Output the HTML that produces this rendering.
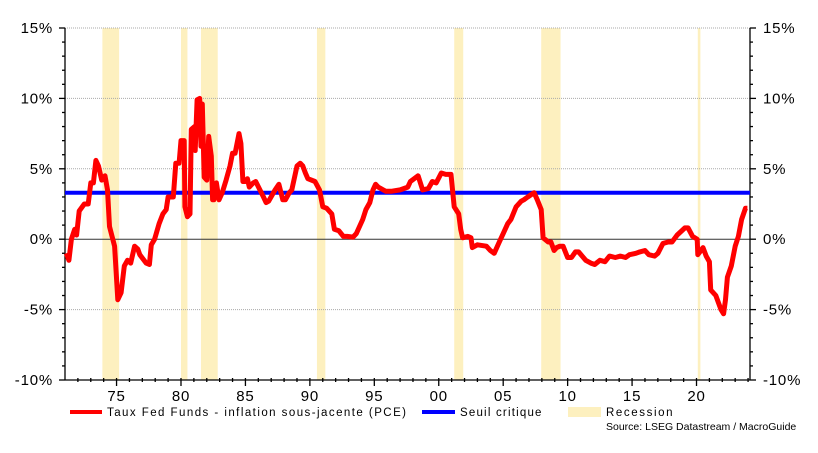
<!DOCTYPE html>
<html><head><meta charset="utf-8"><style>
body{margin:0;background:#fff;width:818px;height:448px;overflow:hidden}
svg text{font-family:"Liberation Sans",sans-serif;fill:#000}
</style></head><body>
<svg id="chart" width="818" height="448" xmlns="http://www.w3.org/2000/svg"></svg>
<script>
const years=[1971.1,1971.3,1971.5,1971.75,1971.9,1972.1,1972.5,1972.8,1973.0,1973.2,1973.4,1973.6,1973.85,1974.1,1974.3,1974.45,1974.85,1975.1,1975.35,1975.6,1975.85,1976.1,1976.4,1976.65,1976.8,1977.3,1977.55,1977.7,1977.95,1978.3,1978.6,1978.85,1979.0,1979.4,1979.6,1979.85,1980.0,1980.25,1980.3,1980.5,1980.7,1980.8,1981.05,1981.1,1981.25,1981.45,1981.55,1981.65,1981.8,1982.0,1982.15,1982.35,1982.45,1982.55,1982.75,1982.95,1983.2,1983.5,1983.8,1984.0,1984.2,1984.5,1984.65,1984.8,1985.0,1985.15,1985.3,1985.6,1985.8,1986.35,1986.6,1986.8,1987.3,1987.6,1987.9,1988.1,1988.4,1988.6,1989.0,1989.25,1989.45,1989.65,1989.85,1990.4,1990.75,1991.0,1991.3,1991.7,1991.9,1992.25,1992.6,1992.9,1993.35,1993.6,1994.1,1994.35,1994.65,1994.9,1995.1,1995.3,1995.7,1995.9,1996.3,1997.0,1997.6,1997.8,1998.4,1998.75,1999.2,1999.5,1999.8,2000.2,2000.55,2000.95,2001.2,2001.55,2001.7,2001.85,2002.25,2002.5,2002.6,2003.0,2003.7,2004.0,2004.3,2004.7,2005.0,2005.35,2005.6,2006.0,2006.4,2006.6,2006.9,2007.4,2007.65,2007.95,2008.1,2008.5,2008.7,2008.95,2009.15,2009.4,2009.65,2010.0,2010.3,2010.6,2010.85,2011.4,2011.8,2012.1,2012.5,2012.9,2013.25,2013.7,2014.1,2014.5,2014.8,2015.3,2015.6,2016.0,2016.3,2016.75,2017.0,2017.4,2017.8,2018.1,2018.5,2019.1,2019.35,2019.7,2020.05,2020.1,2020.5,2020.75,2021.0,2021.1,2021.5,2021.9,2022.1,2022.25,2022.4,2022.7,2023.0,2023.25,2023.5,2023.8,2023.95];
const values=[-1.0,-1.5,0,0.7,0.3,2.0,2.5,2.5,4.0,4.0,5.6,5.2,4.2,4.5,3.5,0.9,-0.5,-4.3,-3.8,-1.9,-1.5,-1.7,-0.5,-0.7,-1.1,-1.7,-1.8,-0.4,0,1.1,1.8,2.1,3.0,3.0,5.4,5.4,7.0,7.0,2.3,1.6,1.8,7.8,8.0,6.3,9.9,10.0,6.6,9.6,4.4,4.2,7.3,5.9,2.8,2.8,4.0,2.8,3.3,4.2,5.2,6.1,6.1,7.5,6.8,4.1,4.1,4.3,3.7,4.0,4.1,3.1,2.6,2.7,3.5,3.9,2.8,2.8,3.3,3.5,5.2,5.4,5.2,4.7,4.3,4.1,3.5,2.3,2.2,1.8,0.7,0.6,0.2,0.2,0.15,0.4,1.4,2.1,2.6,3.5,3.9,3.7,3.5,3.4,3.4,3.5,3.7,4.1,4.5,3.5,3.6,4.1,4.0,4.7,4.6,4.6,2.3,1.8,0.7,0.1,0.2,0.1,-0.6,-0.4,-0.5,-0.8,-1.0,-0.2,0.4,1.1,1.4,2.3,2.7,2.8,3.0,3.3,2.8,2.1,0.1,-0.2,-0.2,-0.8,-0.6,-0.5,-0.5,-1.3,-1.3,-0.9,-0.9,-1.5,-1.7,-1.8,-1.5,-1.6,-1.2,-1.3,-1.2,-1.3,-1.1,-1.0,-0.9,-0.8,-1.1,-1.2,-1.0,-0.3,-0.2,-0.2,0.3,0.8,0.8,0.2,0,-1.1,-0.6,-1.2,-1.6,-3.6,-4.0,-5.0,-5.3,-4.3,-2.7,-1.9,-0.5,0.2,1.4,2.2,2.2];
const recStart=[1973.9,1980.0,1981.55,1990.55,2001.2,2007.95,2020.1];
const recEnd=[1975.2,1980.5,1982.85,1991.2,2001.9,2009.45,2020.3];
const threshold=[3.3];
const yTicks=[15,10,5,0,-5,-10];
const yTickLabels=["15%","10%","5%","0%","-5%","-10%"];
const xTicks=[1975,1980,1985,1990,1995,2000,2005,2010,2015,2020];
const xTickLabels=["75","80","85","90","95","00","05","10","15","20"];

const L=65,R=750,T=28,B=380;
const x0=1971.0,x1=2024.15;
function X(v){return L+(v-x0)/(x1-x0)*(R-L);}
function Y(v){return B-(v+10)/25*(B-T);}
const svg=document.getElementById('chart');
const NS='http://www.w3.org/2000/svg';
function mk(tag,attrs,parent){const e=document.createElementNS(NS,tag);for(const k in attrs)e.setAttribute(k,attrs[k]);(parent||svg).appendChild(e);return e;}

for(let i=0;i<recStart.length;i++){
 const r=mk('rect',{x:X(recStart[i]),y:T,width:Math.max(1.5,X(recEnd[i])-X(recStart[i])),height:B-T,fill:'#fdf0bf'});
 
 
}
yTicks.forEach((v,i)=>{
 if(v!==0&&v!==-10){const g=mk('line',{x1:L,x2:R,y1:Y(v),y2:Y(v),stroke:'#aaa','stroke-width':1,'stroke-dasharray':'1,1'});
 
 }
 const t1=mk('text',{x:L-12,y:Y(v)+5,'text-anchor':'end','font-size':15,'letter-spacing':0.8});t1.textContent=yTickLabels[i];
 
 
 const t2=mk('text',{x:R+13,y:Y(v)+5,'text-anchor':'start','font-size':15,'letter-spacing':0.8});t2.textContent=yTickLabels[i];
 
 
});
const z=mk('line',{x1:L,x2:R,y1:Y(0),y2:Y(0),stroke:'#333','stroke-width':1});


const ax=mk('g',{stroke:'#000','stroke-width':1.3});


mk('line',{x1:L,x2:L,y1:T,y2:B},ax);
mk('line',{x1:R,x2:R,y1:T,y2:B},ax);
mk('line',{x1:L,x2:R,y1:B,y2:B},ax);
for(let v=-10;v<=15;v++){const big=v%5===0;mk('line',{x1:L-(big?6:3),x2:L,y1:Y(v),y2:Y(v)},ax);mk('line',{x1:R,x2:R+(big?6:3),y1:Y(v),y2:Y(v)},ax);}
for(let yr=1972;yr<=2024;yr++){const big=yr%5===0;mk('line',{x1:X(yr),x2:X(yr),y1:B-2,y2:B+(big?6:2)},ax);}
xTicks.forEach((v,i)=>{const t=mk('text',{x:X(v),y:B+21,'text-anchor':'middle','font-size':15,'letter-spacing':0.8});t.textContent=xTickLabels[i];
 
 });
const th=mk('line',{x1:L,x2:R,y1:Y(threshold[0]),y2:Y(threshold[0]),stroke:'#0000ff','stroke-width':4});


const pts=years.map((y,i)=>X(y).toFixed(1)+','+Y(values[i]).toFixed(1)).join(' ');
const pl=mk('polyline',{points:pts,fill:'none',stroke:'#ff0000','stroke-width':5,'stroke-linejoin':'round'});


</script>
<svg style="position:absolute;left:0;top:0" width="818" height="448" xmlns="http://www.w3.org/2000/svg">
<g><rect x="70" y="410" width="32" height="4" fill="#ff0000"/><text x="107" y="416" font-size="11.5" letter-spacing="1.45" font-family="Liberation Sans,sans-serif">Taux Fed Funds - inflation sous-jacente (PCE)</text></g>
<g><rect x="422" y="410" width="33" height="4" fill="#0000ff"/><text x="460" y="416" font-size="11.5" letter-spacing="1.2" font-family="Liberation Sans,sans-serif">Seuil critique</text></g>
<g><rect x="568" y="407" width="33" height="10" fill="#fdf0bf"/><text x="606" y="416" font-size="11.5" letter-spacing="1.6" font-family="Liberation Sans,sans-serif">Recession</text></g>
<text x="606" y="430" font-size="10.5" letter-spacing="0" font-family="Liberation Sans,sans-serif">Source: LSEG Datastream / MacroGuide</text>
</svg>
</body></html>
